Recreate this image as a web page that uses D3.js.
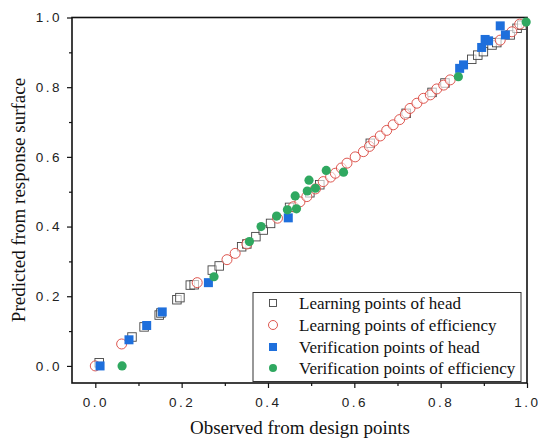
<!DOCTYPE html>
<html><head><meta charset="utf-8">
<script src="https://cdn.jsdelivr.net/npm/d3@7"></script>
<style>
body{margin:0;background:#fff;}
svg{display:block;font-family:"Liberation Serif","DejaVu Serif",serif;}
</style></head>
<body><svg id="c" width="538" height="439"></svg>
<script>
const xTicks = [0, 0.2, 0.4, 0.6, 0.8, 1.0];
const yTicks = [0, 0.2, 0.4, 0.6, 0.8, 1.0];
const minorTicks = [0.1, 0.3, 0.5, 0.7, 0.9];
const seriesNames = ["Learning points of head","Learning points of efficiency","Verification points of head","Verification points of efficiency"];

const learnHead = [[0.009,0.009],[0.085,0.083],[0.113,0.112],[0.148,0.146],[0.152,0.152],[0.189,0.19],[0.196,0.196],[0.22,0.232],[0.229,0.233],[0.271,0.275],[0.287,0.287],[0.339,0.342],[0.351,0.35],[0.372,0.371],[0.389,0.39],[0.406,0.409],[0.45,0.455],[0.497,0.497],[0.52,0.52],[0.637,0.639],[0.72,0.725],[0.78,0.785],[0.81,0.812],[0.872,0.88],[0.886,0.892],[0.899,0.902],[0.919,0.921],[0.93,0.928],[0.961,0.95],[0.977,0.969],[0.988,0.978]];
const learnEff = [[0.0,0.0],[0.061,0.063],[0.236,0.239],[0.305,0.305],[0.324,0.323],[0.351,0.35],[0.422,0.424],[0.459,0.457],[0.474,0.471],[0.49,0.486],[0.51,0.508],[0.528,0.529],[0.545,0.542],[0.556,0.553],[0.57,0.568],[0.583,0.582],[0.602,0.6],[0.621,0.615],[0.635,0.63],[0.645,0.645],[0.66,0.66],[0.675,0.676],[0.69,0.692],[0.705,0.707],[0.718,0.722],[0.729,0.739],[0.745,0.754],[0.76,0.768],[0.776,0.778],[0.791,0.795],[0.807,0.806],[0.822,0.821],[0.938,0.935],[0.965,0.959],[0.983,0.981]];
const verHead = [[0.011,0.0],[0.078,0.075],[0.119,0.116],[0.155,0.155],[0.262,0.239],[0.447,0.425],[0.844,0.854],[0.853,0.864],[0.895,0.914],[0.903,0.937],[0.911,0.933],[0.938,0.976],[0.95,0.95]];
const verEff = [[0.062,0.0],[0.275,0.256],[0.357,0.357],[0.384,0.4],[0.42,0.43],[0.445,0.448],[0.466,0.451],[0.463,0.488],[0.491,0.502],[0.51,0.51],[0.495,0.533],[0.535,0.561],[0.575,0.556],[0.841,0.83],[0.998,0.987]];

const svg = d3.select("#c");
const L = 72, R = 527, T = 17.5, B = 383;
const x = d3.scaleLinear().domain([-0.054, 1.0]).range([L, R]);
const y = d3.scaleLinear().domain([-0.049, 1.0]).range([B, T]);

const fmt = d => d.toFixed(1);
const xAxis = d3.axisBottom(x).tickValues(xTicks).tickFormat(fmt).tickSize(5).tickPadding(9);
const yAxis = d3.axisLeft(y).tickValues(yTicks).tickFormat(fmt).tickSize(5).tickPadding(5);
const gx = svg.append("g").attr("transform", `translate(0,${B})`).call(xAxis);
const gy = svg.append("g").attr("transform", `translate(${L},0)`).call(yAxis);
svg.append("g").attr("transform", `translate(0,${B})`).call(d3.axisBottom(x).tickValues(minorTicks).tickFormat("").tickSize(3)).select(".domain").remove();
svg.append("g").attr("transform", `translate(${L},0)`).call(d3.axisLeft(y).tickValues(minorTicks).tickFormat("").tickSize(3)).select(".domain").remove();
[gx, gy].forEach(g => {
  g.select(".domain").remove();
  g.selectAll("text").attr("font-size", 13.5).attr("letter-spacing", "2.5px").attr("fill", "#222");
});
svg.selectAll(".tick line").attr("stroke", "#111").attr("stroke-width", 1.2);

svg.append("rect").attr("x", L).attr("y", T).attr("width", R - L).attr("height", B - T)
  .attr("fill", "none").attr("stroke", "#111").attr("stroke-width", 1.6);

const plot = svg.append("g");
const sq = 8.5;
plot.selectAll(".lh").data(learnHead).join("rect")
  .attr("x", d => x(d[0]) - sq/2).attr("y", d => y(d[1]) - sq/2).attr("width", sq).attr("height", sq)
  .attr("fill", "#fff").attr("fill-opacity", 0.6).attr("stroke", "#444").attr("stroke-width", 0.9);
plot.selectAll(".le").data(learnEff).join("circle")
  .attr("cx", d => x(d[0])).attr("cy", d => y(d[1])).attr("r", 5)
  .attr("fill", "#fff").attr("fill-opacity", 0.6).attr("stroke", "#d9443c").attr("stroke-width", 0.9);
const bs = 9;
plot.selectAll(".vh").data(verHead).join("rect")
  .attr("x", d => x(d[0]) - bs/2).attr("y", d => y(d[1]) - bs/2).attr("width", bs).attr("height", bs)
  .attr("fill", "#1e6fdc");
plot.selectAll(".ve").data(verEff).join("circle")
  .attr("cx", d => x(d[0])).attr("cy", d => y(d[1])).attr("r", 4.6)
  .attr("fill", "#2fa860");

const lg = svg.append("g");
lg.append("rect").attr("x", 253).attr("y", 292.5).attr("width", 268).attr("height", 89)
  .attr("fill", "#fff").attr("stroke", "#333").attr("stroke-width", 1);
const rowsY = [303, 325, 347, 368];
const mx = 273;
lg.append("rect").attr("x", mx - 3.5).attr("y", rowsY[0] - 3.5).attr("width", 7).attr("height", 7)
  .attr("fill", "#fff").attr("stroke", "#444").attr("stroke-width", 0.9);
lg.append("circle").attr("cx", mx).attr("cy", rowsY[1]).attr("r", 4.5)
  .attr("fill", "#fff").attr("stroke", "#d9443c").attr("stroke-width", 0.9);
lg.append("rect").attr("x", mx - 4).attr("y", rowsY[2] - 4).attr("width", 8).attr("height", 8).attr("fill", "#1e6fdc");
lg.append("circle").attr("cx", mx).attr("cy", rowsY[3]).attr("r", 4).attr("fill", "#2fa860");
lg.selectAll("text").data(seriesNames).join("text")
  .attr("x", 299).attr("y", (d, i) => rowsY[i]).attr("dy", "0.35em")
  .attr("font-size", 17).attr("fill", "#111").text(d => d);

svg.append("text").attr("x", 300).attr("y", 434).attr("text-anchor", "middle")
  .attr("font-size", 19).attr("fill", "#111").text("Observed from design points");
svg.append("text").attr("transform", "translate(25,200) rotate(-90)").attr("text-anchor", "middle")
  .attr("font-size", 19).attr("fill", "#111").text("Predicted from response surface");
</script></body></html>
